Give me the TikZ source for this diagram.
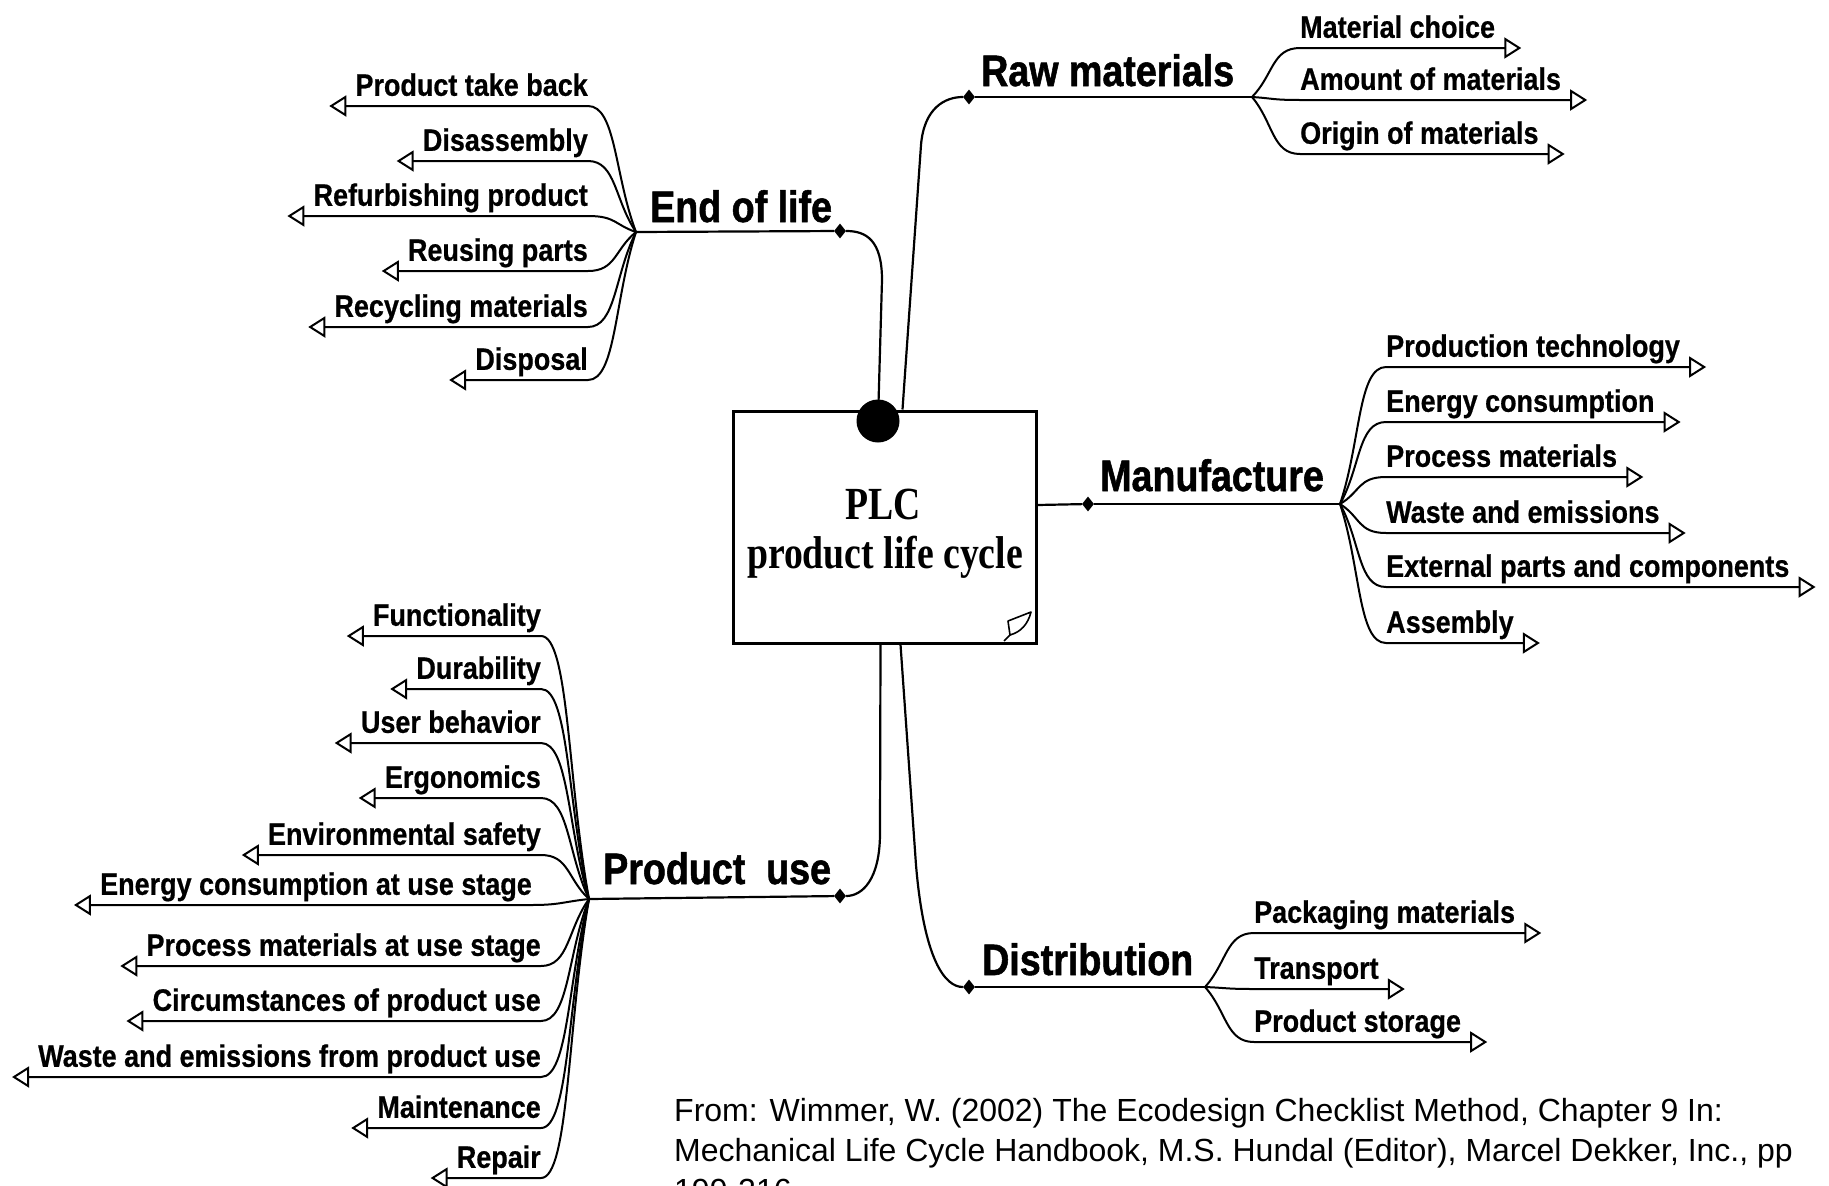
\documentclass[tikz,border=0pt]{standalone}
\usepackage{fontspec}
\setmainfont{Liberation Sans}
\newfontfamily\condfont[FakeStretch=0.87,FakeBold=0.6]{Liberation Sans}
\newfontfamily\branchfont[FakeStretch=0.855,FakeBold=1.2]{Liberation Sans}
\newfontfamily\boxfont[FakeStretch=0.82]{Liberation Serif}
\usetikzlibrary{arrows.meta,calc,shapes.geometric}

\tikzset{
  item/.style={font=\condfont\bfseries\fontsize{31}{34}\selectfont, inner sep=0pt, text height=22pt, text depth=10pt},
  fan/.style={line width=2pt, -{Triangle[open, length=17pt, width=21pt, line width=2pt]}},
  branch/.style={font=\branchfont\bfseries\fontsize{44}{48}\selectfont, inner sep=0pt, anchor=base west},
  trunk/.style={line width=2.2pt},
  dia/.style={diamond, fill, inner sep=0pt, minimum width=12pt, minimum height=15pt},
  boxtext/.style={font=\boxfont\bfseries\fontsize{46}{50}\selectfont, inner sep=0pt, anchor=base},
  cite/.style={font=\fontsize{32}{40}\selectfont, inner sep=0pt, anchor=base west},
}

\newcommand{\litem}[4]{%
  \node[item, anchor=south east] (#1) at (#3) {#4};
  \draw[fan] (#2) .. controls ($(#2)!0.45!(#1.south east)$) and +(28,0) .. (#1.south east) -- ([xshift=-26pt]#1.south west);
}
\newcommand{\ritem}[4]{%
  \node[item, anchor=south west] (#1) at (#3) {#4};
  \draw[fan] (#2) .. controls ($(#2)!0.45!(#1.south west)$) and +(-28,0) .. (#1.south west) -- ([xshift=26pt]#1.south east);
}

\begin{document}
\begin{tikzpicture}[x=1pt, y=-1pt]
\useasboundingbox (0,0) rectangle (1829,1186);
\fill[white] (0,0) rectangle (1829,1186);
\clip (0,0) rectangle (1829,1186);

% central box
\node[draw, line width=3pt, minimum width=303pt, minimum height=232pt, inner sep=0pt] (plc) at (884.5,527) {};
\node[boxtext] (plct1) at (883,519) {PLC};
\node[boxtext] (plct2) at (885,568) {product life cycle};
% note icon
\draw[line width=1.6pt, line join=round] (1008,621) -- (1031,612) .. controls (1028,624) and (1021,632) .. (1010,635) -- cycle;
\draw[line width=1.6pt] (1010,635) -- (1004,641);

% diamonds and hubs
\node[dia] (dEoL) at (840,231) {};
\node[dia] (dRaw) at (969,97) {};
\node[dia] (dMan) at (1088,504) {};
\node[dia] (dUse) at (840,896) {};
\node[dia] (dDist) at (969,987) {};
\coordinate (hEoL) at (636,232);
\coordinate (hRaw) at (1252,97);
\coordinate (hMan) at (1340,504);
\coordinate (hUse) at (589,899);
\coordinate (hDist) at (1205,987);

% trunks
\draw[trunk] (878,421) -- (882,280) .. controls (882,240) and (866,231) .. (dEoL);
\draw[trunk] ([xshift=18pt]plc.north) -- (921,145) .. controls (924,108) and (945,97) .. (dRaw);
\draw[trunk] ([xshift=-4pt]plc.south) -- (880,833) .. controls (880,880) and (862,896) .. (dUse);
\draw[trunk] ([xshift=16pt]plc.south) -- (916,865) .. controls (924,960) and (945,987) .. (dDist);
\draw[trunk] ([yshift=22pt]plc.east) -- (dMan);
\node[circle, fill, inner sep=0pt, minimum size=43pt] (dot) at (878,421) {};

\draw[trunk] (dEoL) -- (hEoL);
\draw[trunk] (dRaw) -- (hRaw);
\draw[trunk] (dMan) -- (hMan);
\draw[trunk] (dUse) -- (hUse);
\draw[trunk] (dDist) -- (hDist);

% branch labels
\node[branch] (lRaw) at (981,86) {Raw materials};
\node[branch] (lEoL) at (650,222) {End of life};
\node[branch] (lMan) at (1100,491) {Manufacture};
\node[branch] (lDist) at (982,975) {Distribution};
\node[branch] (lUse) at (603,884) {Product\ \ use};

% End of life items
\litem{eol1}{hEoL}{588,106}{Product take back}
\litem{eol2}{hEoL}{588,161}{Disassembly}
\litem{eol3}{hEoL}{588,216}{Refurbishing product}
\litem{eol4}{hEoL}{588,271}{Reusing parts}
\litem{eol5}{hEoL}{588,327}{Recycling materials}
\litem{eol6}{hEoL}{588,380}{Disposal}

% Product use items
\litem{use1}{hUse}{541,636}{Functionality}
\litem{use2}{hUse}{541,689}{Durability}
\litem{use3}{hUse}{541,743}{User behavior}
\litem{use4}{hUse}{541,798}{Ergonomics}
\litem{use5}{hUse}{541,855}{Environmental safety}
\litem{use6}{hUse}{532,905}{Energy consumption at use stage}
\litem{use7}{hUse}{541,966}{Process materials at use stage}
\litem{use8}{hUse}{541,1021}{Circumstances of product use}
\litem{use9}{hUse}{541,1077}{Waste and emissions from product use}
\litem{use10}{hUse}{541,1128}{Maintenance}
\litem{use11}{hUse}{541,1178}{Repair}

% Raw materials items
\ritem{raw1}{hRaw}{1300,48}{Material choice}
\ritem{raw2}{hRaw}{1300,100}{Amount of materials}
\ritem{raw3}{hRaw}{1300,154}{Origin of materials}

% Manufacture items
\ritem{man1}{hMan}{1386,367}{Production technology}
\ritem{man2}{hMan}{1386,422}{Energy consumption}
\ritem{man3}{hMan}{1386,477}{Process materials}
\ritem{man4}{hMan}{1386,533}{Waste and emissions}
\ritem{man5}{hMan}{1386,587}{External parts and components}
\ritem{man6}{hMan}{1386,643}{Assembly}

% Distribution items
\ritem{dis1}{hDist}{1254,933}{Packaging materials}
\ritem{dis2}{hDist}{1254,989}{Transport}
\ritem{dis3}{hDist}{1254,1042}{Product storage}

% citation
\node[cite] (c1) at (674,1121) {From: Wimmer, W. (2002) The Ecodesign Checklist Method, Chapter 9 In:};
\node[cite] (c2) at (674,1161) {Mechanical Life Cycle Handbook, M.S. Hundal (Editor), Marcel Dekker, Inc., pp};
\node[cite] (c3) at (674,1201) {199-216.};
\end{tikzpicture}
\end{document}
